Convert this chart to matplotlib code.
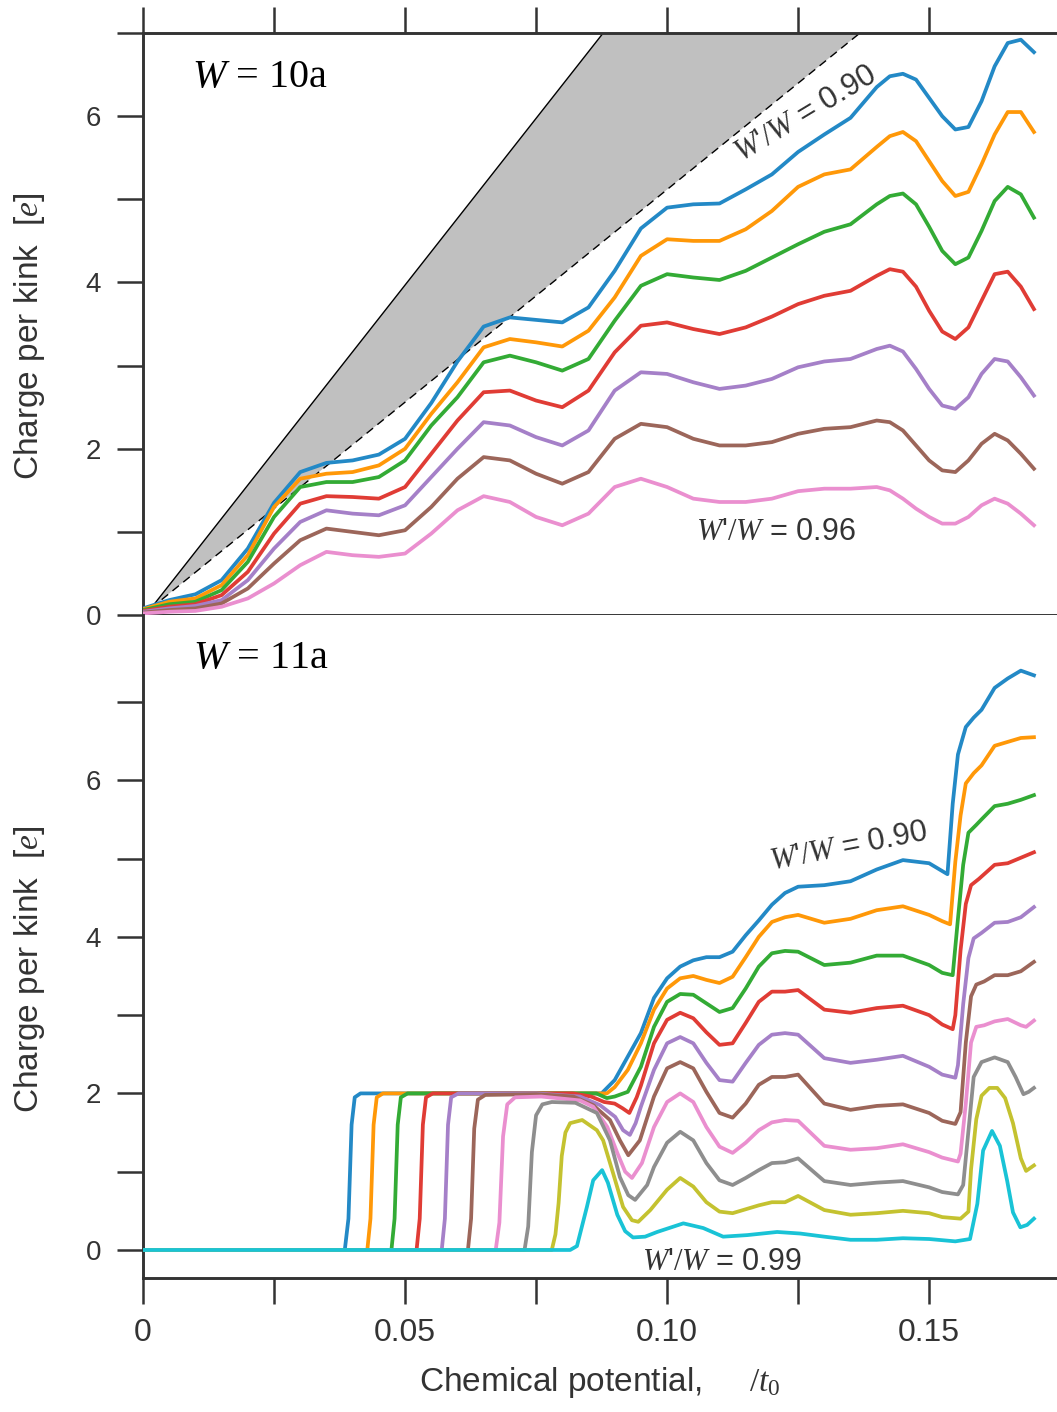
import matplotlib
matplotlib.use("Agg")
import matplotlib.pyplot as plt
import numpy as np

plt.rcParams['font.family'] = ['Liberation Sans', 'DejaVu Sans']
plt.rcParams['mathtext.fontset'] = 'custom'
plt.rcParams['mathtext.rm'] = 'Liberation Serif'
plt.rcParams['mathtext.it'] = 'Liberation Serif:italic'

# ---- panel W = 10a : common mu grid ----
mu_top = [0, 0.005, 0.010, 0.015, 0.020, 0.025, 0.030, 0.035, 0.040, 0.045, 0.050,
          0.055, 0.060, 0.065, 0.070, 0.075, 0.080, 0.085, 0.090, 0.095, 0.100,
          0.105, 0.110, 0.115, 0.120, 0.125, 0.130, 0.135, 0.140, 0.1425, 0.145,
          0.1475, 0.150, 0.1525, 0.155, 0.1575, 0.160, 0.1625, 0.165, 0.1675, 0.170]
top_090 = [0.08, 0.18, 0.25, 0.42, 0.80, 1.35, 1.72, 1.83, 1.86, 1.93, 2.12, 2.55, 3.05, 3.47,
           3.58, 3.55, 3.52, 3.70, 4.14, 4.65, 4.90, 4.94, 4.95, 5.12, 5.30, 5.57, 5.78, 5.98,
           6.35, 6.48, 6.51, 6.44, 6.22, 6.00, 5.84, 5.87, 6.18, 6.60, 6.88, 6.92, 6.77]
top_091 = [0.07, 0.16, 0.20, 0.36, 0.72, 1.30, 1.64, 1.70, 1.72, 1.80, 2.00, 2.42, 2.80, 3.22,
           3.32, 3.28, 3.23, 3.42, 3.82, 4.32, 4.52, 4.50, 4.50, 4.64, 4.86, 5.15, 5.30, 5.36,
           5.63, 5.76, 5.81, 5.70, 5.46, 5.22, 5.04, 5.09, 5.42, 5.78, 6.05, 6.05, 5.81]
top_092 = [0.06, 0.13, 0.16, 0.30, 0.64, 1.18, 1.54, 1.60, 1.60, 1.66, 1.86, 2.28, 2.62, 3.04,
           3.12, 3.04, 2.94, 3.08, 3.54, 3.96, 4.10, 4.06, 4.03, 4.14, 4.30, 4.46, 4.61, 4.70,
           4.94, 5.04, 5.07, 4.94, 4.67, 4.38, 4.22, 4.30, 4.62, 4.98, 5.15, 5.06, 4.78]
top_093 = [0.05, 0.10, 0.13, 0.24, 0.52, 0.98, 1.34, 1.43, 1.42, 1.40, 1.54, 1.94, 2.34, 2.68,
           2.70, 2.58, 2.50, 2.70, 3.16, 3.48, 3.52, 3.44, 3.38, 3.46, 3.59, 3.74, 3.84, 3.90,
           4.08, 4.16, 4.13, 3.95, 3.66, 3.41, 3.32, 3.46, 3.78, 4.10, 4.13, 3.95, 3.68]
top_094 = [0.04, 0.08, 0.11, 0.18, 0.42, 0.80, 1.12, 1.26, 1.22, 1.20, 1.32, 1.66, 2.00, 2.32,
           2.28, 2.14, 2.04, 2.22, 2.70, 2.92, 2.90, 2.80, 2.72, 2.76, 2.84, 2.98, 3.05, 3.08,
           3.20, 3.24, 3.17, 2.96, 2.72, 2.52, 2.48, 2.62, 2.90, 3.08, 3.05, 2.86, 2.64]
top_095 = [0.03, 0.06, 0.08, 0.14, 0.32, 0.62, 0.90, 1.04, 1.00, 0.96, 1.02, 1.30, 1.64, 1.90,
           1.86, 1.70, 1.58, 1.72, 2.12, 2.30, 2.26, 2.12, 2.04, 2.04, 2.08, 2.18, 2.24, 2.26,
           2.34, 2.32, 2.22, 2.04, 1.86, 1.74, 1.72, 1.86, 2.06, 2.18, 2.10, 1.94, 1.76]
top_096 = [0.02, 0.04, 0.05, 0.10, 0.20, 0.38, 0.60, 0.76, 0.72, 0.70, 0.74, 0.98, 1.26, 1.43,
           1.36, 1.18, 1.08, 1.22, 1.54, 1.64, 1.54, 1.40, 1.36, 1.36, 1.40, 1.49, 1.52, 1.52,
           1.54, 1.50, 1.40, 1.28, 1.18, 1.10, 1.10, 1.18, 1.32, 1.40, 1.34, 1.22, 1.08]
top_series = [top_090, top_091, top_092, top_093, top_094, top_095, top_096]

# gray wedge (edges from a common apex)
wedge_mu = [0.0015, 0.0878, 0.1368]
wedge_q = [0.08, 7.0, 7.0]

# ---- panel W = 11a : each curve on its own mu points ----
mu_b090 = [0, 0.0385, 0.0392, 0.0398, 0.0404, 0.0415, 0.060, 0.080, 0.0875, 0.090, 0.0925, 0.095,
           0.0975, 0.100, 0.1025, 0.105, 0.1075, 0.110, 0.1125, 0.115, 0.1175, 0.120, 0.1225,
           0.125, 0.130, 0.135, 0.140, 0.145, 0.150, 0.1525, 0.1535, 0.1545, 0.1555, 0.157,
           0.1585, 0.160, 0.1625, 0.165, 0.1675, 0.170]
q_b090 = [0, 0, 0.4, 1.6, 1.95, 2.0, 2.0, 2.0, 2.0, 2.17, 2.47, 2.77, 3.22, 3.47, 3.62, 3.70,
          3.74, 3.74, 3.81, 4.02, 4.21, 4.41, 4.56, 4.64, 4.66, 4.71, 4.86, 4.98, 4.94, 4.84,
          4.80, 5.70, 6.33, 6.68, 6.80, 6.90, 7.18, 7.30, 7.40, 7.34]

mu_b091 = [0, 0.0428, 0.0434, 0.0440, 0.0446, 0.0458, 0.060, 0.080, 0.0885, 0.090, 0.0925, 0.095,
           0.0975, 0.100, 0.1025, 0.105, 0.1075, 0.110, 0.1125, 0.115, 0.1175, 0.120, 0.1225,
           0.125, 0.130, 0.135, 0.140, 0.145, 0.150, 0.1525, 0.154, 0.155, 0.156, 0.157,
           0.1585, 0.160, 0.1625, 0.165, 0.1675, 0.170]
q_b091 = [0, 0, 0.4, 1.6, 1.95, 2.0, 2.0, 2.0, 2.0, 2.08, 2.30, 2.64, 3.07, 3.34, 3.47, 3.50,
          3.45, 3.41, 3.49, 3.74, 4.00, 4.19, 4.25, 4.28, 4.18, 4.23, 4.34, 4.39, 4.28, 4.20,
          4.16, 4.96, 5.55, 5.96, 6.09, 6.19, 6.44, 6.49, 6.54, 6.55]

mu_b092 = [0, 0.0474, 0.0480, 0.0486, 0.0492, 0.0505, 0.060, 0.080, 0.0865, 0.0885, 0.090, 0.0925,
           0.095, 0.0975, 0.100, 0.1025, 0.105, 0.1075, 0.110, 0.1125, 0.115, 0.1175, 0.120,
           0.1225, 0.125, 0.130, 0.135, 0.140, 0.145, 0.150, 0.1525, 0.1545, 0.1555, 0.1565,
           0.1575, 0.159, 0.160, 0.1625, 0.165, 0.1675, 0.170]
q_b092 = [0, 0, 0.4, 1.6, 1.95, 2.0, 2.0, 2.0, 2.0, 1.94, 1.96, 2.02, 2.34, 2.85, 3.17, 3.27,
          3.26, 3.15, 3.04, 3.09, 3.34, 3.62, 3.79, 3.82, 3.81, 3.64, 3.67, 3.76, 3.76, 3.64,
          3.54, 3.51, 4.23, 4.92, 5.33, 5.43, 5.50, 5.67, 5.70, 5.75, 5.81]

mu_b093 = [0, 0.0522, 0.0528, 0.0534, 0.0540, 0.0553, 0.070, 0.082, 0.0855, 0.088, 0.090, 0.0915,
           0.0928, 0.0942, 0.095, 0.0975, 0.100, 0.1025, 0.105, 0.1075, 0.110, 0.1125, 0.115,
           0.1175, 0.120, 0.1225, 0.125, 0.130, 0.135, 0.140, 0.145, 0.150, 0.1525, 0.1545,
           0.155, 0.156, 0.157, 0.158, 0.1595, 0.1625, 0.165, 0.1675, 0.170]
q_b093 = [0, 0, 0.4, 1.6, 1.95, 2.0, 2.0, 2.0, 1.96, 1.89, 1.87, 1.81, 1.75, 1.95, 2.10, 2.64,
          2.94, 3.03, 2.96, 2.78, 2.62, 2.64, 2.90, 3.17, 3.30, 3.30, 3.32, 3.07, 3.03, 3.09,
          3.12, 3.00, 2.88, 2.82, 3.00, 3.83, 4.42, 4.66, 4.74, 4.92, 4.94, 5.01, 5.08]

mu_b094 = [0, 0.0570, 0.0576, 0.0582, 0.0588, 0.0602, 0.075, 0.0834, 0.0872, 0.0901, 0.0916,
           0.0929, 0.0940, 0.0950, 0.0975, 0.100, 0.1025, 0.105, 0.1075, 0.110, 0.1125, 0.115,
           0.1175, 0.120, 0.1225, 0.125, 0.130, 0.135, 0.140, 0.145, 0.150, 0.1525, 0.155,
           0.1555, 0.1565, 0.1575, 0.1585, 0.160, 0.1625, 0.165, 0.1675, 0.170]
q_b094 = [0, 0, 0.4, 1.6, 1.95, 2.0, 2.0, 1.96, 1.85, 1.70, 1.53, 1.47, 1.62, 1.83, 2.30, 2.64,
          2.72, 2.64, 2.39, 2.17, 2.15, 2.39, 2.62, 2.75, 2.77, 2.75, 2.45, 2.39, 2.43, 2.48,
          2.34, 2.24, 2.20, 2.36, 3.14, 3.73, 3.98, 4.05, 4.18, 4.19, 4.25, 4.38]

mu_b095 = [0, 0.0620, 0.0626, 0.0632, 0.0639, 0.0653, 0.075, 0.0821, 0.0859, 0.0891, 0.0910,
           0.0926, 0.0948, 0.0975, 0.100, 0.1025, 0.105, 0.1075, 0.110, 0.1125, 0.115, 0.1175,
           0.120, 0.1225, 0.125, 0.130, 0.135, 0.140, 0.145, 0.150, 0.1525, 0.155, 0.156, 0.157,
           0.158, 0.159, 0.1605, 0.1625, 0.165, 0.1675, 0.170]
q_b095 = [0, 0, 0.4, 1.55, 1.92, 1.98, 1.99, 1.96, 1.85, 1.66, 1.40, 1.21, 1.40, 1.96, 2.32,
          2.40, 2.32, 2.02, 1.75, 1.69, 1.87, 2.11, 2.21, 2.21, 2.24, 1.87, 1.79, 1.84, 1.86,
          1.75, 1.65, 1.61, 1.76, 2.65, 3.24, 3.39, 3.43, 3.51, 3.51, 3.56, 3.68]

mu_b096 = [0, 0.0673, 0.0680, 0.0687, 0.0695, 0.0710, 0.076, 0.0834, 0.0859, 0.0886, 0.0905,
           0.0920, 0.0933, 0.0952, 0.0975, 0.100, 0.1025, 0.105, 0.1075, 0.110, 0.1125, 0.115,
           0.1175, 0.120, 0.1225, 0.125, 0.130, 0.135, 0.140, 0.145, 0.150, 0.1525, 0.1555,
           0.156, 0.157, 0.158, 0.159, 0.1605, 0.1625, 0.165, 0.1675, 0.1685, 0.170]
q_b096 = [0, 0, 0.35, 1.45, 1.86, 1.95, 1.96, 1.91, 1.83, 1.57, 1.24, 1.00, 0.92, 1.11, 1.57,
          1.89, 2.00, 1.89, 1.57, 1.32, 1.24, 1.37, 1.53, 1.63, 1.66, 1.65, 1.33, 1.28, 1.30,
          1.35, 1.25, 1.18, 1.13, 1.23, 1.87, 2.65, 2.85, 2.87, 2.92, 2.95, 2.87, 2.85, 2.93]

mu_b097 = [0, 0.0728, 0.0735, 0.0742, 0.0750, 0.0762, 0.078, 0.0825, 0.0866, 0.0891, 0.0910,
           0.0926, 0.0939, 0.0962, 0.0975, 0.100, 0.1025, 0.105, 0.1075, 0.110, 0.1125, 0.115,
           0.1175, 0.120, 0.1225, 0.125, 0.130, 0.135, 0.140, 0.145, 0.150, 0.1525, 0.1555,
           0.1565, 0.1575, 0.1585, 0.160, 0.1625, 0.165, 0.1665, 0.168, 0.169, 0.170]
q_b097 = [0, 0, 0.3, 1.25, 1.72, 1.86, 1.89, 1.88, 1.75, 1.40, 0.93, 0.70, 0.64, 0.83, 1.06,
          1.37, 1.51, 1.40, 1.11, 0.89, 0.83, 0.92, 1.02, 1.11, 1.12, 1.17, 0.88, 0.83, 0.86,
          0.88, 0.80, 0.74, 0.71, 0.83, 1.52, 2.21, 2.40, 2.46, 2.40, 2.21, 1.99, 2.02, 2.07]

mu_b098 = [0, 0.0780, 0.0787, 0.0793, 0.0799, 0.0806, 0.0815, 0.0838, 0.0866, 0.0878, 0.0897,
           0.0916, 0.0933, 0.0945, 0.0968, 0.100, 0.1025, 0.105, 0.1075, 0.110, 0.1125, 0.115,
           0.1175, 0.120, 0.1225, 0.125, 0.130, 0.135, 0.140, 0.145, 0.150, 0.1525, 0.156,
           0.1575, 0.158, 0.159, 0.160, 0.1615, 0.163, 0.1645, 0.166, 0.1675, 0.1685, 0.170]
q_b098 = [0, 0, 0.2, 0.6, 1.2, 1.5, 1.62, 1.66, 1.53, 1.40, 0.98, 0.55, 0.38, 0.36, 0.51, 0.77,
          0.92, 0.81, 0.61, 0.49, 0.47, 0.52, 0.57, 0.61, 0.61, 0.69, 0.51, 0.45, 0.47, 0.50,
          0.47, 0.42, 0.40, 0.49, 1.03, 1.67, 1.97, 2.07, 2.07, 1.94, 1.62, 1.17, 1.01, 1.08]

mu_b099 = [0, 0.0815, 0.0828, 0.0847, 0.0859, 0.0876, 0.0887, 0.0905, 0.0920, 0.0935, 0.0958,
           0.0981, 0.1031, 0.1069, 0.1107, 0.1153, 0.1210, 0.1254, 0.130, 0.135, 0.140, 0.145,
           0.150, 0.155, 0.1578, 0.1592, 0.1603, 0.1620, 0.1635, 0.1649, 0.1660, 0.1674,
           0.1687, 0.170]
q_b099 = [0, 0, 0.05, 0.55, 0.89, 1.02, 0.86, 0.45, 0.24, 0.16, 0.17, 0.23, 0.34, 0.28, 0.17,
          0.19, 0.23, 0.21, 0.17, 0.13, 0.13, 0.15, 0.14, 0.11, 0.14, 0.59, 1.27, 1.52, 1.33,
          0.88, 0.48, 0.29, 0.32, 0.40]

bottom_series = [(mu_b090, q_b090), (mu_b091, q_b091), (mu_b092, q_b092), (mu_b093, q_b093),
                 (mu_b094, q_b094), (mu_b095, q_b095), (mu_b096, q_b096), (mu_b097, q_b097),
                 (mu_b098, q_b098), (mu_b099, q_b099)]

colores = ['#2389c6', '#ff9808', '#33ab35', '#e03c35', '#a580c8',
           '#9c665a', '#ea8fcf', '#8e8e8e', '#c4c230', '#19c3d6']

x_ticks = [0, 0.025, 0.05, 0.075, 0.10, 0.125, 0.15]
x_tick_labels = ['0', '', '0.05', '', '0.10', '', '0.15']
eixo = '#333333'

fig = plt.figure(figsize=(10.57, 14.12), dpi=100)
ax1 = fig.add_axes([0.1353, 0.5644, 0.8647, 0.4122])
ax2 = fig.add_axes([0.1353, 0.0949, 0.8647, 0.4695])

for ax in (ax1, ax2):
    ax.set_xlim(0, 0.1744)
    ax.spines['right'].set_visible(False)
    for s in ax.spines.values():
        s.set_color(eixo)
        s.set_linewidth(2.1)
    ax.tick_params(axis='both', direction='out', length=19, width=1.8, color=eixo,
                   labelcolor=eixo)
    ax.tick_params(axis='y', labelsize=20, pad=11)
    ax.set_xticks(x_ticks)

# painel superior
ax1.set_ylim(0, 7)
ax1.fill(wedge_mu, wedge_q, color='#c0c0c0', lw=0, zorder=1)
ax1.plot(wedge_mu[:2], wedge_q[:2], color='black', lw=1.0, zorder=2)
ax1.plot([wedge_mu[0], wedge_mu[2]], [wedge_q[0], wedge_q[2]], color='black', lw=1.0,
         dashes=(6, 4), zorder=2)
for serie, cor in zip(top_series, colores):
    ax1.plot(mu_top, serie, color=cor, lw=2.7, zorder=3, solid_joinstyle='round')
ax1.set_yticks(range(0, 8))
ax1.set_yticklabels(['0', '', '2', '', '4', '', '6', ''])
ax1.tick_params(axis='x', bottom=False, top=True, labelbottom=False, labeltop=False)
ax1.set_ylabel('Charge per kink  [$e$]', fontsize=24, color=eixo)
ax1.yaxis.set_label_coords(-0.105, 0.479)
ax1.text(0.0094, 6.47, '$W$ = 10a', fontfamily='Liberation Serif', fontsize=29,
         ha='left', va='center', color='black')
ax1.text(0.1265, 6.02, "$W$'$/W$ = 0.90", fontsize=22, rotation=31, rotation_mode='anchor',
         ha='center', va='center', color=eixo)
ax1.text(0.1208, 1.0, "$W$'$/W$ = 0.96", fontsize=22, ha='center', va='center', color=eixo)

# painel inferior
ax2.set_ylim(-0.358, 8.11)
ax2.spines['top'].set_visible(False)
for (mu, q), cor in zip(bottom_series, colores):
    ax2.plot(mu, q, color=cor, lw=2.7, zorder=3, solid_joinstyle='round')
ax2.set_yticks(range(0, 8))
ax2.set_yticklabels(['0', '', '2', '', '4', '', '6', ''])
ax2.set_xticklabels(x_tick_labels)
ax2.tick_params(axis='x', labelsize=23, pad=10)
ax2.set_ylabel('Charge per kink  [$e$]', fontsize=24, color=eixo)
ax2.yaxis.set_label_coords(-0.105, 0.465)
ax2.set_xlabel('Chemical potential,     $/t_0$', fontsize=24, labelpad=12, color=eixo)
ax2.text(0.0095, 7.55, '$W$ = 11a', fontfamily='Liberation Serif', fontsize=29,
         ha='left', va='center', color='black')
ax2.text(0.1347, 5.15, "$W$'$/W$ = 0.90", fontsize=22, rotation=11, rotation_mode='anchor',
         ha='center', va='center', color=eixo)
ax2.text(0.1105, -0.15, "$W$'$/W$ = 0.99", fontsize=22, ha='center', va='center', color=eixo)

fig.savefig('out.png', dpi=100)
